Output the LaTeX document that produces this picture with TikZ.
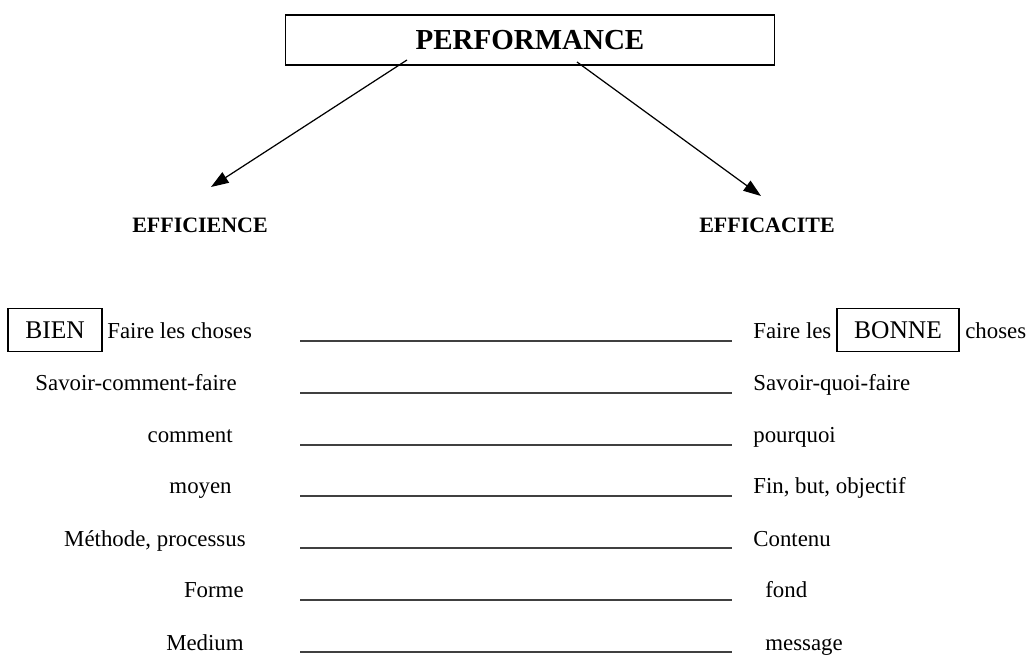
\documentclass[tikz,border=0pt]{standalone}
\usepackage{fontspec}
\setmainfont{Liberation Serif}
\usetikzlibrary{arrows.meta}

\begin{document}
\begin{tikzpicture}[x=0.02cm, y=-0.02cm, >={Triangle[length=10pt,width=7pt]},
    txt/.style={inner sep=0pt, anchor=base west, font=\fontsize{13}{15}\selectfont},
    txtr/.style={inner sep=0pt, anchor=base east, font=\fontsize{13}{15}\selectfont},
    cadre/.style={draw, line width=0.6pt, inner sep=0pt, font=\fontsize{14.5}{17}\selectfont},
    titre/.style={inner sep=0pt, font=\fontsize{12.5}{15}\selectfont\bfseries},
    trait/.style={draw=black!75, line width=0.7pt}]
        \useasboundingbox (0,0) rectangle (1029,655);

        \node[draw, line width=0.6pt, minimum width=9.8cm, minimum height=1cm,
              font=\fontsize{16.5}{19}\selectfont\bfseries] (perf) at (530,40) {PERFORMANCE};
        \node[titre] (eff1) at (200,225) {EFFICIENCE};
        \node[titre] (eff2) at (767,225) {EFFICACITE};

        \coordinate (pl) at (407,60);
        \coordinate (pr) at (577,62);
        \coordinate (fl) at (211,187);
        \coordinate (fr) at (761,196);
        \draw[->, line width=0.7pt] (pl) -- (fl);
        \draw[->, line width=0.7pt] (pr) -- (fr);

        % ligne 1
        \node[cadre, minimum width=1.88cm, minimum height=0.86cm] (bien) at (55,330) {BIEN};
        \node[txt] (g1) at (107,339) {Faire les choses};
        \node[txt] (d1) at (753,339) {Faire les};
        \node[cadre, minimum width=2.44cm, minimum height=0.86cm] (bonne) at (898,330) {BONNE};
        \node[txt] (d1b) at (965,339) {choses};

        % autres lignes
        \node[txtr] (g2) at (237,391) {Savoir-comment-faire};
        \node[txtr] (g3) at (233,443) {comment};
        \node[txtr] (g4) at (232,494) {moyen};
        \node[txtr] (g5) at (246,546) {Méthode, processus};
        \node[txtr] (g6) at (244,598) {Forme};
        \node[txtr] (g7) at (244,650) {Medium};

        \node[txt] (d2) at (753,391) {Savoir-quoi-faire};
        \node[txt] (d3) at (753,443) {pourquoi};
        \node[txt] (d4) at (753,494) {Fin, but, objectif};
        \node[txt] (d5) at (753,546) {Contenu};
        \node[txt] (d6) at (765,598) {fond};
        \node[txt] (d7) at (765,650) {message};

        \foreach \y in {341,393,445,496,548,600,652}
            \draw[trait] (300,\y) -- (732,\y);
    \end{tikzpicture}
\end{document}
